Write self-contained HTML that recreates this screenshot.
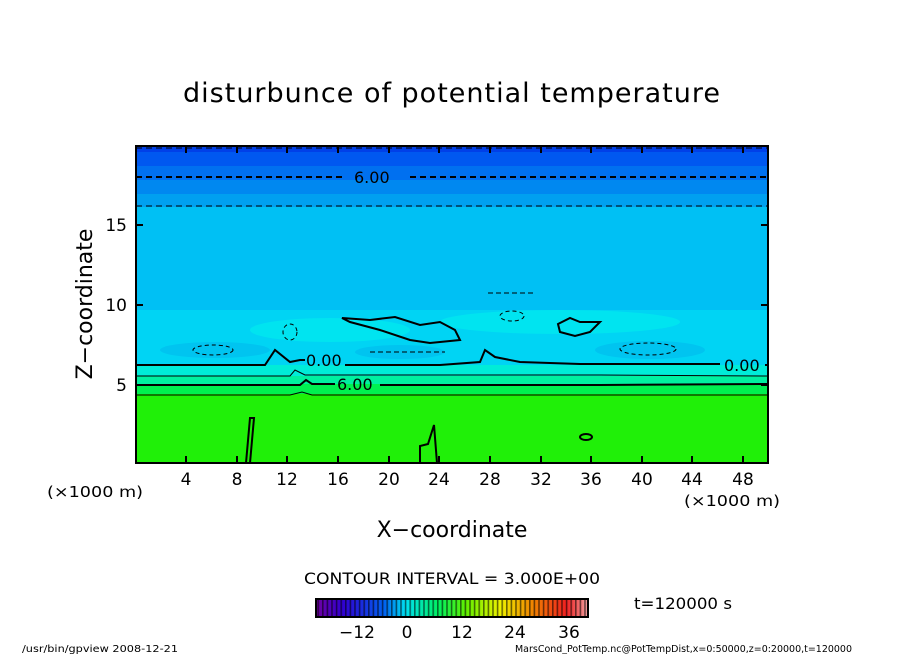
<!DOCTYPE html>
<html><head><style>
body{margin:0;background:#fff;width:904px;height:654px;overflow:hidden}
text{font-family:"DejaVu Sans","Liberation Sans",sans-serif;fill:#000}
</style></head><body>
<svg width="904" height="654" viewBox="0 0 904 654" xmlns="http://www.w3.org/2000/svg">
<defs>
<linearGradient id="cb" x1="0" x2="1" y1="0" y2="0">
<stop offset="0" stop-color="#7000a0"/><stop offset="0.1" stop-color="#3000d0"/>
<stop offset="0.25" stop-color="#0060f0"/><stop offset="0.33" stop-color="#00e0f0"/>
<stop offset="0.45" stop-color="#00f060"/><stop offset="0.55" stop-color="#60f000"/>
<stop offset="0.68" stop-color="#f0f000"/><stop offset="0.8" stop-color="#f08000"/>
<stop offset="0.92" stop-color="#f02020"/><stop offset="1" stop-color="#f0a0a0"/>
</linearGradient>
<pattern id="st" width="4.6" height="20" patternUnits="userSpaceOnUse"><rect x="0" y="0" width="1.6" height="20" fill="#000" opacity="0.55"/></pattern>
</defs>
<text x="452" y="102" font-size="27" text-anchor="middle" letter-spacing="1">disturbunce of potential temperature</text>
<rect x="136" y="146" width="632" height="6" fill="#0040e8"/>
<rect x="136" y="152" width="632" height="14" fill="#0058f0"/>
<rect x="136" y="166" width="632" height="14" fill="#0070f0"/>
<rect x="136" y="180" width="632" height="14" fill="#0088f0"/>
<rect x="136" y="194" width="632" height="13" fill="#00a0f0"/>
<rect x="136" y="207" width="632" height="103" fill="#00c0f4"/>
<rect x="136" y="310" width="632" height="55" fill="#00d4f4"/>
<ellipse cx="330" cy="330" rx="80" ry="12" fill="#00e4f0"/>
<ellipse cx="560" cy="322" rx="120" ry="12" fill="#00e4f0"/>
<ellipse cx="215" cy="350" rx="55" ry="8" fill="#00c4f0"/>
<ellipse cx="650" cy="350" rx="55" ry="9" fill="#00c4f0"/>
<ellipse cx="400" cy="352" rx="45" ry="7" fill="#00c4f0"/>
<rect x="136" y="365" width="632" height="11" fill="#00ecd8"/>
<rect x="136" y="376" width="632" height="8" fill="#00f0a0"/>
<rect x="136" y="384" width="632" height="10" fill="#00f050"/>
<rect x="136" y="394" width="632" height="69" fill="#20f008"/>
<g fill="none" stroke="#000">
<path d="M136 148H768" stroke-dasharray="6,4" stroke-width="1"/>
<path d="M136 177H345M410 177H768" stroke-dasharray="6,4" stroke-width="2"/>
<path d="M136 206H768" stroke-dasharray="6,4" stroke-width="1"/>
<path d="M136 365H265L275 350L290 362L300 360H305M345 365H440L480 362L485 350L495 357L520 362L580 364H720M768 365H765" stroke-width="2"/>
<path d="M342 318L370 320L395 317L420 325L440 322L455 330L460 340L430 343L410 340L380 330L350 322Z" stroke-width="2"/>
<path d="M558 324L570 318L580 322L600 322L590 332L575 336L560 332Z" stroke-width="2"/>
<path d="M136 376H290L295 370L305 375H600L768 376" stroke-width="1"/>
<path d="M136 385H300L306 380L312 384H335M380 385H600L768 384" stroke-width="2"/>
<path d="M136 395H290L302 392L312 395H768" stroke-width="1"/>
<path d="M246 463L250 418H254L250 463Z" stroke-width="2"/>
<path d="M420 463L420 446L428 444L434 425L437 463" stroke-width="2"/>
<ellipse cx="586" cy="437" rx="6" ry="3" stroke-width="2"/>
<ellipse cx="213" cy="350" rx="20" ry="5" stroke-dasharray="4,3"/>
<ellipse cx="290" cy="332" rx="7" ry="8" stroke-dasharray="4,3"/>
<ellipse cx="512" cy="316" rx="12" ry="5" stroke-dasharray="4,3"/>
<ellipse cx="648" cy="349" rx="28" ry="6" stroke-dasharray="4,3"/>
<path d="M370 352H445" stroke-dasharray="5,3"/>
<path d="M488 293H535" stroke-dasharray="5,3"/>
</g>
<text x="306" y="366" font-size="16">0.00</text>
<text x="337" y="390" font-size="16">6.00</text>
<text x="724" y="371" font-size="16">0.00</text>
<text x="354" y="183" font-size="16">6.00</text>
<rect x="136" y="146" width="632" height="317" fill="none" stroke="#000" stroke-width="2"/>
<g stroke="#000" stroke-width="2">
<path d="M186 463v-7M237 463v-7M287 463v-7M338 463v-7M389 463v-7M439 463v-7M490 463v-7M541 463v-7M591 463v-7M642 463v-7M692 463v-7M743 463v-7"/>
<path d="M186 146v7M237 146v7M287 146v7M338 146v7M389 146v7M439 146v7M490 146v7M541 146v7M591 146v7M642 146v7M692 146v7M743 146v7"/>
<path d="M136 385h7M136 305h7M136 225h7M768 385h-7M768 305h-7M768 225h-7"/>
</g>
<g font-size="17" text-anchor="middle">
<text x="186" y="485">4</text><text x="237" y="485">8</text><text x="287" y="485">12</text><text x="338" y="485">16</text><text x="389" y="485">20</text><text x="439" y="485">24</text><text x="490" y="485">28</text><text x="541" y="485">32</text><text x="591" y="485">36</text><text x="642" y="485">40</text><text x="692" y="485">44</text><text x="743" y="485">48</text>
</g>
<g font-size="17" text-anchor="end"><text x="127" y="391">5</text><text x="127" y="311">10</text><text x="127" y="231">15</text></g>
<text x="47" y="497" font-size="15" textLength="96" lengthAdjust="spacingAndGlyphs">(×1000 m)</text>
<text x="684" y="506" font-size="15" textLength="96" lengthAdjust="spacingAndGlyphs">(×1000 m)</text>
<text x="452" y="537" font-size="22" text-anchor="middle">X−coordinate</text>
<text transform="translate(92,304) rotate(-90)" font-size="22" text-anchor="middle">Z−coordinate</text>
<text x="304" y="584" font-size="16" textLength="296" lengthAdjust="spacingAndGlyphs">CONTOUR INTERVAL = 3.000E+00</text>
<rect x="316" y="599" width="272" height="18" fill="url(#cb)"/>
<rect x="316" y="599" width="272" height="18" fill="url(#st)"/>
<rect x="316" y="599" width="272" height="18" fill="none" stroke="#000" stroke-width="2"/>
<g font-size="17" text-anchor="middle"><text x="357" y="638">−12</text><text x="407" y="638">0</text><text x="462" y="638">12</text><text x="515" y="638">24</text><text x="569" y="638">36</text></g>
<text x="634" y="609" font-size="16" textLength="98" lengthAdjust="spacingAndGlyphs">t=120000 s</text>
<text x="22" y="652" font-size="10" textLength="156" lengthAdjust="spacingAndGlyphs">/usr/bin/gpview   2008-12-21</text>
<text x="515" y="652" font-size="10" textLength="337" lengthAdjust="spacingAndGlyphs">MarsCond_PotTemp.nc@PotTempDist,x=0:50000,z=0:20000,t=120000</text>
</svg>
</body></html>
